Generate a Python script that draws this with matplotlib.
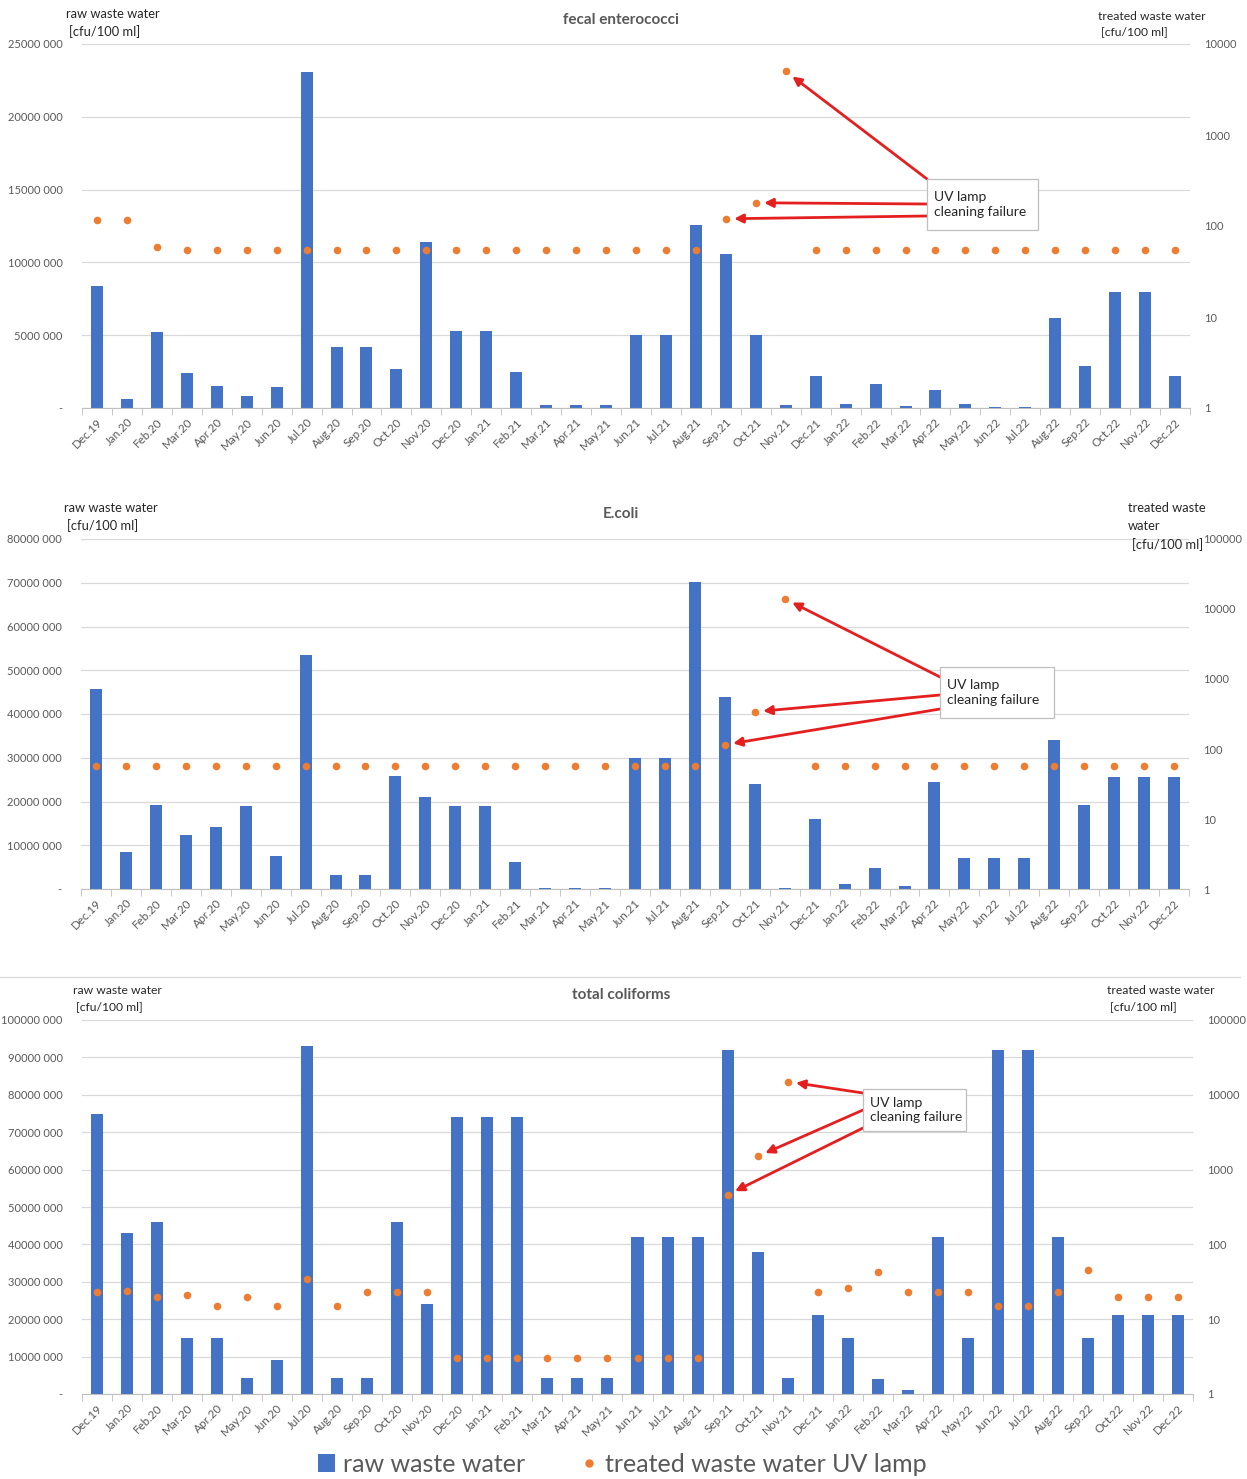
import matplotlib.pyplot as plt
import numpy as np
from matplotlib.patches import Rectangle, Patch
from matplotlib.lines import Line2D
from matplotlib.ticker import FuncFormatter, FixedLocator, NullLocator

plt.rcParams['font.family'] = ['Lato', 'DejaVu Sans']

W, H = 1247, 1479
BLUE = '#4472C4'
ORANGE = '#ED7D31'
RED = '#E3201F'
GREY = '#595959'

months = ['Dec.19', 'Jan.20', 'Feb.20', 'Mar.20', 'Apr.20', 'May.20', 'Jun.20', 'Jul.20',
          'Aug.20', 'Sep.20', 'Oct.20', 'Nov.20', 'Dec.20', 'Jan.21', 'Feb.21', 'Mar.21',
          'Apr.21', 'May.21', 'Jun.21', 'Jul.21', 'Aug.21', 'Sep.21', 'Oct.21', 'Nov.21',
          'Dec.21', 'Jan.22', 'Feb.22', 'Mar.22', 'Apr.22', 'May.22', 'Jun.22', 'Jul.22',
          'Aug.22', 'Sep.22', 'Oct.22', 'Nov.22', 'Dec.22']

# raw waste water in million cfu/100 ml, treated (UV lamp) in cfu/100 ml
entero_raw = [8.4, 0.6, 5.2, 2.4, 1.5, 0.8, 1.45, 23.1, 4.2, 4.2, 2.7, 11.4, 5.3, 5.3, 2.5,
              0.2, 0.2, 0.2, 5.0, 5.0, 12.6, 10.6, 5.0, 0.2, 2.2, 0.3, 1.65, 0.15, 1.25, 0.3,
              0.08, 0.08, 6.2, 2.9, 8.0, 8.0, 2.2]
entero_uv = [115, 115, 59, 55, 55, 55, 55, 55, 55, 55, 55, 55, 55, 55, 55, 55, 55, 55, 55,
             55, 55, 120, 180, 5000, 55, 55, 55, 55, 55, 55, 55, 55, 55, 55, 55, 55, 55]

ecoli_raw = [45.8, 8.4, 19.2, 12.3, 14.2, 19.0, 7.6, 53.6, 3.2, 3.2, 25.8, 21.1, 19.0, 19.0,
             6.2, 0.3, 0.3, 0.3, 30.0, 30.0, 70.2, 44.0, 24.0, 0.3, 16.0, 1.2, 4.7, 0.6, 24.5,
             7.2, 7.2, 7.2, 34.1, 19.1, 25.5, 25.5, 25.5]
ecoli_uv = [57, 57, 57, 57, 57, 57, 57, 57, 57, 57, 57, 57, 57, 57, 57, 57, 57, 57, 57, 57,
            57, 115, 340, 14000, 57, 57, 57, 57, 57, 57, 57, 57, 57, 57, 57, 57, 57]

coli_raw = [75, 43, 46, 15, 15, 4.2, 9.2, 93, 4.4, 4.4, 46, 24, 74, 74, 74, 4.4, 4.4, 4.4,
            42, 42, 42, 92, 38, 4.4, 21, 15, 3.9, 1.2, 42, 15, 92, 92, 42, 15, 21, 21, 21]
coli_uv = [23, 24, 20, 21, 15, 20, 15, 35, 15, 23, 23, 23, 3, 3, 3, 3, 3, 3, 3, 3, 3,
           460, 1500, 15000, 23, 26, 43, 23, 23, 23, 15, 15, 23, 45, 20, 20, 20]

failure_idx = [21, 22, 23]  # Sep.21, Oct.21, Nov.21


def px(x, y):
    return x / W, 1 - y / H


def raw_fmt(v, pos):
    if v == 0:
        return '-'
    return f'{int(round(v / 1000))} 000'


def draw_panel(fig, box, raw, uv, ymax, ystep, rmax, title, title_y, note_box, tails):
    x0, y0, x1, y1 = box
    ax = fig.add_axes([x0 / W, 1 - y1 / H, (x1 - x0) / W, (y1 - y0) / H])
    x = np.arange(len(months))
    ax.bar(x, np.array(raw) * 1e6, width=0.4, color=BLUE, zorder=2)
    ax.set_xlim(-0.5, len(months) - 0.5)
    ax.set_ylim(0, ymax)
    ax.yaxis.set_major_locator(FixedLocator(np.arange(0, ymax + 1, ystep)))
    ax.yaxis.set_major_formatter(FuncFormatter(raw_fmt))
    ax.grid(axis='y', color='#D9D9D9', lw=0.9, zorder=0)
    for s in ['top', 'right', 'left']:
        ax.spines[s].set_visible(False)
    ax.spines['bottom'].set_color('#BFBFBF')
    ax.tick_params(axis='y', length=0, pad=14, labelsize=8, labelcolor=GREY)
    ax.set_xticks(x)
    ax.set_xticklabels(months, rotation=45, ha='right', rotation_mode='anchor')
    ax.set_xticks(np.arange(-0.5, len(months)), minor=True)
    ax.tick_params(axis='x', which='major', length=0, pad=6, labelsize=8.4, labelcolor=GREY)
    ax.tick_params(axis='x', which='minor', length=5, color='#BFBFBF', direction='out')

    ax2 = ax.twinx()
    ax2.scatter(x, uv, s=30, color=ORANGE, zorder=3, linewidths=0)
    ax2.set_yscale('log')
    ax2.set_ylim(1, rmax)
    decades = [10 ** k for k in range(int(np.log10(rmax)) + 1)]
    ax2.yaxis.set_major_locator(FixedLocator(decades))
    ax2.yaxis.set_minor_locator(NullLocator())
    ax2.yaxis.set_major_formatter(FuncFormatter(lambda v, p: f'{int(round(v))}'))
    ax2.tick_params(axis='y', length=0, pad=10, labelsize=8, labelcolor=GREY)
    for s in ax2.spines.values():
        s.set_visible(False)

    fig.text(*px(621, title_y), title, ha='center', va='center', fontsize=11,
             fontweight='bold', color=GREY)

    # callout box with arrows to the failure months
    bx0, by0, bx1, by1 = note_box
    to_ax = lambda X, Y: ((X - x0) / (x1 - x0), (y1 - Y) / (y1 - y0))
    for (tx, ty), i in zip(tails, failure_idx[::-1]):
        ax2.annotate('', xy=(i, uv[i]), xycoords='data',
                     xytext=to_ax(tx, ty), textcoords='axes fraction',
                     arrowprops=dict(arrowstyle='-|>', color=RED, lw=2.0,
                                     mutation_scale=13, shrinkA=0, shrinkB=6),
                     zorder=4)
    lx, ly = to_ax(bx0, by1)
    rx, ry = to_ax(bx1, by0)
    ax2.add_patch(Rectangle((lx, ly), rx - lx, ry - ly, transform=ax2.transAxes,
                            facecolor='white', edgecolor='#BFBFBF', lw=0.9, zorder=5,
                            clip_on=False))
    tx, ty = to_ax(bx0 + 7, (by0 + by1) / 2)
    ax2.text(tx, ty, 'UV lamp\ncleaning failure', transform=ax2.transAxes, ha='left',
             va='center', fontsize=10, color='#262626', linespacing=1.25, zorder=6)
    return ax, ax2


fig = plt.figure(figsize=(W / 100, H / 100), dpi=100)

draw_panel(fig, (82, 44, 1190, 408), entero_raw, entero_uv, 25e6, 5e6, 1e4,
           'fecal enterococci', 20, (927, 179, 1038, 230),
           [(927, 179), (927, 204), (927, 216)])
draw_panel(fig, (81, 539, 1189, 889), ecoli_raw, ecoli_uv, 80e6, 10e6, 1e5,
           'E.coli', 514, (940, 667, 1054, 718),
           [(940, 677), (940, 695), (940, 709)])
draw_panel(fig, (82, 1020, 1193, 1394), coli_raw, coli_uv, 100e6, 10e6, 1e5,
           'total coliforms', 995, (863, 1089, 966, 1131),
           [(863, 1093), (863, 1110), (863, 1128)])

# axis captions
cap = dict(fontsize=9.3, color='#262626', va='center', ha='left')
small = dict(fontsize=8.7, color='#262626', va='center', ha='left')
fig.text(*px(66, 14), 'raw waste water', **cap)
fig.text(*px(69, 32), '[cfu/100 ml]', **cap)
fig.text(*px(1098, 16), 'treated waste water', **small)
fig.text(*px(1101, 32), '[cfu/100 ml]', **small)

fig.text(*px(64, 508), 'raw waste water', **cap)
fig.text(*px(67, 526), '[cfu/100 ml]', **cap)
fig.text(*px(1128, 508), 'treated waste', **cap)
fig.text(*px(1128, 526), 'water', **cap)
fig.text(*px(1132, 545), '[cfu/100 ml]', **cap)

fig.text(*px(73, 990), 'raw waste water', **small)
fig.text(*px(76, 1007), '[cfu/100 ml]', **small)
fig.text(*px(1107, 990), 'treated waste water', **small)
fig.text(*px(1110, 1007), '[cfu/100 ml]', **small)

# thin border above the last chart
fig.add_artist(Line2D([0, 1240 / W], [1 - 977 / H] * 2, color='#D9D9D9', lw=0.9))

handles = [Patch(facecolor=BLUE, edgecolor='none'),
           Line2D([], [], marker='o', color=ORANGE, linestyle='none', markersize=5)]
fig.legend(handles, ['raw waste water', 'treated waste water UV lamp'],
           loc='center', bbox_to_anchor=px(622, 1464), ncol=2, frameon=False,
           fontsize=18, labelcolor=GREY, handlelength=0.7, handletextpad=0.3,
           columnspacing=2.2)

fig.savefig('out.png', dpi=100)
